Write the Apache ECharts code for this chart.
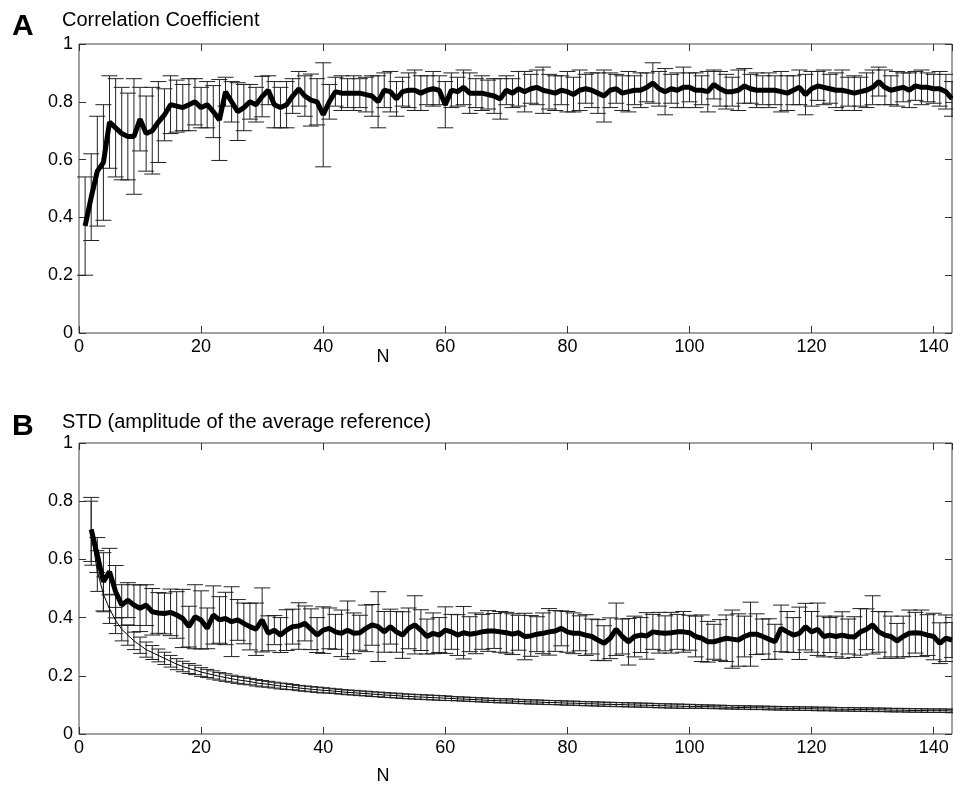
<!DOCTYPE html>
<html>
<head>
<meta charset="utf-8">
<script src="https://cdn.jsdelivr.net/npm/echarts@6/dist/echarts.min.js"></script>
<style>
  html, body { margin: 0; padding: 0; background: #fff; }
  #echarts { width: 953px; height: 787px; }
</style>
</head>
<body>
<div id="echarts"></div>
<script>
// x ticks / y ticks
var xTicks = [0, 20, 40, 60, 80, 100, 120, 140];
var yTicks = [0, 0.2, 0.4, 0.6, 0.8, 1];

// panel A: correlation coefficient, N = 1..143
var corrMean = [
  0.37,0.47,0.56,0.59,0.73,0.71,0.69,0.68,0.68,0.74,
  0.69,0.70,0.73,0.755,0.79,0.785,0.78,0.79,0.80,0.78,
  0.79,0.766,0.737,0.835,0.80,0.766,0.78,0.80,0.79,0.818,
  0.84,0.79,0.78,0.79,0.82,0.845,0.82,0.806,0.80,0.755,
  0.80,0.835,0.83,0.83,0.83,0.83,0.825,0.82,0.80,0.84,
  0.835,0.81,0.835,0.84,0.84,0.83,0.84,0.845,0.84,0.79,
  0.84,0.835,0.85,0.83,0.83,0.83,0.825,0.82,0.81,0.84,
  0.83,0.845,0.835,0.845,0.85,0.84,0.835,0.83,0.84,0.835,
  0.825,0.84,0.845,0.84,0.83,0.82,0.84,0.845,0.83,0.835,
  0.84,0.84,0.85,0.865,0.845,0.835,0.845,0.84,0.85,0.85,
  0.84,0.84,0.835,0.86,0.845,0.835,0.835,0.84,0.855,0.845,
  0.84,0.84,0.84,0.84,0.835,0.83,0.84,0.85,0.825,0.845,
  0.855,0.85,0.845,0.84,0.84,0.835,0.83,0.835,0.84,0.85,
  0.87,0.85,0.84,0.845,0.85,0.84,0.855,0.85,0.85,0.845,
  0.845,0.835,0.81
];
var corrErr = [
  0.17,0.15,0.19,0.20,0.16,0.17,0.16,0.15,0.20,0.11,
  0.13,0.15,0.14,0.09,0.10,0.09,0.08,0.09,0.08,0.07,
  0.08,0.09,0.14,0.05,0.07,0.10,0.08,0.06,0.06,0.07,
  0.05,0.08,0.07,0.08,0.06,0.06,0.07,0.09,0.08,0.18,
  0.06,0.05,0.06,0.05,0.06,0.05,0.06,0.07,0.09,0.06,
  0.07,0.06,0.05,0.06,0.07,0.06,0.05,0.06,0.05,0.08,
  0.06,0.05,0.06,0.07,0.05,0.06,0.05,0.06,0.07,0.05,
  0.05,0.06,0.07,0.05,0.06,0.08,0.06,0.06,0.05,0.07,
  0.06,0.07,0.05,0.06,0.07,0.09,0.06,0.05,0.06,0.07,
  0.05,0.06,0.05,0.07,0.06,0.08,0.05,0.06,0.07,0.05,
  0.06,0.05,0.07,0.05,0.06,0.06,0.05,0.07,0.06,0.05,
  0.06,0.05,0.06,0.05,0.07,0.06,0.05,0.06,0.07,0.06,
  0.05,0.06,0.05,0.06,0.07,0.05,0.06,0.05,0.06,0.06,
  0.05,0.06,0.05,0.06,0.05,0.06,0.05,0.06,0.05,0.05,
  0.06,0.06,0.06
];

// panel B: STD, N = 2..143
var stdMean = [
  0.703,0.615,0.523,0.558,0.489,0.443,0.46,0.443,0.432,
  0.443,0.42,0.416,0.414,0.418,0.409,0.397,0.369,0.403,0.392,
  0.363,0.409,0.392,0.397,0.386,0.392,0.38,0.369,0.36,0.392,
  0.346,0.357,0.34,0.357,0.369,0.371,0.38,0.36,0.34,0.357,
  0.363,0.351,0.346,0.357,0.346,0.348,0.363,0.375,0.369,0.351,
  0.369,0.351,0.34,0.363,0.375,0.357,0.335,0.346,0.34,0.357,
  0.351,0.34,0.348,0.343,0.346,0.351,0.354,0.354,0.351,0.348,
  0.343,0.348,0.335,0.337,0.343,0.346,0.351,0.354,0.363,0.351,
  0.346,0.346,0.34,0.335,0.323,0.312,0.329,0.36,0.335,0.317,
  0.335,0.34,0.337,0.351,0.348,0.346,0.348,0.351,0.351,0.348,
  0.335,0.329,0.317,0.317,0.323,0.329,0.326,0.323,0.335,0.343,
  0.343,0.335,0.326,0.317,0.363,0.351,0.34,0.346,0.369,0.351,
  0.36,0.335,0.34,0.335,0.34,0.335,0.333,0.351,0.36,0.375,
  0.351,0.34,0.335,0.32,0.335,0.346,0.348,0.346,0.34,0.335,
  0.312,0.329,0.323
];
var stdErr = [
  0.11,0.06,0.10,0.08,0.09,0.07,0.06,0.07,0.08,
  0.07,0.08,0.07,0.07,0.08,0.08,0.10,0.07,0.11,0.10,
  0.07,0.10,0.08,0.09,0.12,0.07,0.07,0.08,0.09,0.11,
  0.06,0.05,0.06,0.07,0.06,0.08,0.06,0.07,0.06,0.08,
  0.07,0.06,0.08,0.10,0.07,0.06,0.08,0.07,0.12,0.07,
  0.06,0.07,0.08,0.07,0.10,0.07,0.06,0.07,0.06,0.08,
  0.06,0.07,0.09,0.06,0.07,0.06,0.07,0.06,0.07,0.07,
  0.07,0.06,0.08,0.07,0.06,0.07,0.08,0.07,0.06,0.07,
  0.07,0.06,0.07,0.06,0.07,0.06,0.07,0.09,0.06,0.08,
  0.07,0.06,0.08,0.06,0.07,0.06,0.07,0.06,0.07,0.06,
  0.07,0.08,0.07,0.06,0.07,0.08,0.10,0.09,0.07,0.11,
  0.07,0.06,0.07,0.06,0.08,0.07,0.06,0.09,0.08,0.07,
  0.09,0.07,0.06,0.07,0.08,0.06,0.07,0.08,0.07,0.10,
  0.07,0.08,0.07,0.06,0.07,0.08,0.07,0.08,0.07,0.08,
  0.07,0.08,0.06
];
var refMean = [
  0.69,0.56,0.48,0.43,0.39,0.36,0.34,0.32,0.305,
  0.29,0.28,0.27,0.26,0.25,0.24,0.232,0.225,0.22,0.213,
  0.208,0.203,0.198,0.194,0.19,0.186,0.183,0.18,0.176,0.173,
  0.171,0.168,0.165,0.163,0.161,0.158,0.156,0.154,0.152,0.15,
  0.149,0.147,0.145,0.143,0.142,0.14,0.139,0.137,0.136,0.134,
  0.133,0.132,0.13,0.129,0.128,0.127,0.126,0.125,0.124,0.123,
  0.122,0.121,0.12,0.119,0.118,0.117,0.116,0.115,0.114,0.114,
  0.113,0.112,0.111,0.11,0.11,0.109,0.108,0.108,0.107,0.106,
  0.106,0.105,0.104,0.104,0.103,0.102,0.102,0.101,0.101,0.1,
  0.1,0.099,0.099,0.098,0.097,0.097,0.096,0.096,0.095,0.095,
  0.095,0.094,0.094,0.093,0.093,0.092,0.092,0.091,0.091,0.09,
  0.09,0.09,0.089,0.089,0.088,0.088,0.088,0.087,0.087,0.087,
  0.086,0.086,0.086,0.085,0.085,0.085,0.084,0.084,0.084,0.083,
  0.083,0.083,0.082,0.082,0.082,0.081,0.081,0.081,0.08,0.08,
  0.08,0.08,0.079
];
var refErr = [
  0.11,0.07,0.06,0.05,0.045,0.04,0.035,0.03,0.028,
  0.026,0.024,0.022,0.021,0.02,0.019,0.018,0.017,0.016,0.015,
  0.014,0.014,0.013,0.013,0.012,0.012,0.012,0.011,0.011,0.011,
  0.010,0.010,0.010,0.010,0.009,0.009,0.009,0.009,0.009,0.009,
  0.008,0.008,0.008,0.008,0.008,0.008,0.008,0.008,0.008,0.008,
  0.008,0.008,0.008,0.008,0.008,0.008,0.008,0.008,0.008,0.008,
  0.007,0.007,0.007,0.007,0.007,0.007,0.007,0.007,0.007,0.007,
  0.007,0.007,0.007,0.007,0.007,0.007,0.007,0.007,0.007,0.007,
  0.007,0.007,0.007,0.007,0.007,0.007,0.007,0.007,0.007,0.007,
  0.007,0.007,0.007,0.007,0.007,0.007,0.007,0.007,0.007,0.007,
  0.006,0.006,0.006,0.006,0.006,0.006,0.006,0.006,0.006,0.006,
  0.006,0.006,0.006,0.006,0.006,0.006,0.006,0.006,0.006,0.006,
  0.006,0.006,0.006,0.006,0.006,0.006,0.006,0.006,0.006,0.006,
  0.006,0.006,0.006,0.006,0.006,0.006,0.006,0.006,0.006,0.006,
  0.006,0.006,0.006
];

var FONT = 'Liberation Sans, Arial, Helvetica, sans-serif';

function toLine(mean, n0) {
    var out = [];
    mean.forEach(function (v, i) { out.push([n0 + i, v]); });
    return out;
}
function toBars(mean, err, n0) {
    var out = [];
    mean.forEach(function (v, i) { out.push([n0 + i, v - err[i], v + err[i]]); });
    return out;
}

function makeErrRender(capHalf, color) {
    return function (params, api) {
        var x = api.value(0);
        var lo = api.coord([x, api.value(1)]);
        var hi = api.coord([x, api.value(2)]);
        var st = { stroke: color, lineWidth: 1 };
        return {
            type: 'group',
            children: [
                { type: 'line', shape: { x1: lo[0], y1: lo[1], x2: hi[0], y2: hi[1] }, style: st },
                { type: 'line', shape: { x1: lo[0] - capHalf, y1: lo[1], x2: lo[0] + capHalf, y2: lo[1] }, style: st },
                { type: 'line', shape: { x1: hi[0] - capHalf, y1: hi[1], x2: hi[0] + capHalf, y2: hi[1] }, style: st }
            ]
        };
    };
}

function xAx(grid, pos) {
    return {
        type: 'value', gridIndex: grid, position: pos, min: 0, max: 143, interval: 20,
        axisLine: { show: false, onZero: false },
        axisTick: { show: true, inside: true, length: 7, lineStyle: { color: '#333' } },
        axisLabel: {
            show: pos === 'bottom', color: '#000', fontSize: 18, fontFamily: FONT, margin: 5,
            showMaxLabel: false,
            formatter: function (v) { return xTicks.indexOf(v) >= 0 ? String(v) : ''; }
        },
        splitLine: { show: false }
    };
}
function yAx(grid, pos) {
    return {
        type: 'value', gridIndex: grid, position: pos, min: 0, max: 1, interval: 0.2,
        axisLine: { show: false, onZero: false },
        axisTick: { show: true, inside: true, length: 7, lineStyle: { color: '#333' } },
        axisLabel: {
            show: pos === 'left', color: '#000', fontSize: 18, fontFamily: FONT, margin: 6,
            formatter: function (v) {
                for (var i = 0; i < yTicks.length; i++) {
                    if (Math.abs(yTicks[i] - v) < 1e-6) return String(yTicks[i]);
                }
                return '';
            }
        },
        splitLine: { show: false }
    };
}

var myChart = echarts.init(document.getElementById('echarts'));

var option = {
    backgroundColor: '#fff',
    animation: false,
    grid: [
        { left: 79, top: 44, width: 873, height: 289, show: true, borderColor: '#444', borderWidth: 1,
          backgroundColor: 'transparent', outerBoundsMode: 'none' },
        { left: 79, top: 443, width: 873, height: 291, show: true, borderColor: '#444', borderWidth: 1,
          backgroundColor: 'transparent', outerBoundsMode: 'none' }
    ],
    xAxis: [xAx(0, 'bottom'), xAx(0, 'top'), xAx(1, 'bottom'), xAx(1, 'top')],
    yAxis: [yAx(0, 'left'), yAx(0, 'right'), yAx(1, 'left'), yAx(1, 'right')],
    graphic: [
        { type: 'text', x: 12, y: 27, style: { text: 'A', font: 'bold 30px ' + FONT, fill: '#000', textVerticalAlign: 'middle' } },
        { type: 'text', x: 62, y: 20, style: { text: 'Correlation Coefficient', font: '20px ' + FONT, fill: '#000', textVerticalAlign: 'middle' } },
        { type: 'text', x: 383, y: 357, style: { text: 'N', font: '18px ' + FONT, fill: '#000', textAlign: 'center', textVerticalAlign: 'middle' } },
        { type: 'text', x: 12, y: 427, style: { text: 'B', font: 'bold 30px ' + FONT, fill: '#000', textVerticalAlign: 'middle' } },
        { type: 'text', x: 62, y: 422, style: { text: 'STD (amplitude of the average reference)', font: '20px ' + FONT, fill: '#000', textVerticalAlign: 'middle' } },
        { type: 'text', x: 383, y: 776, style: { text: 'N', font: '18px ' + FONT, fill: '#000', textAlign: 'center', textVerticalAlign: 'middle' } }
    ],
    series: [
        {
            name: 'corrErr', type: 'custom', xAxisIndex: 0, yAxisIndex: 0,
            renderItem: makeErrRender(8, '#222'),
            encode: { x: 0, y: [1, 2] },
            data: toBars(corrMean, corrErr, 1), z: 2
        },
        {
            name: 'Correlation Coefficient', type: 'line', xAxisIndex: 0, yAxisIndex: 0,
            showSymbol: false, smooth: false,
            lineStyle: { color: '#000', width: 5 },
            data: toLine(corrMean, 1), z: 3
        },
        {
            name: 'refErr', type: 'custom', xAxisIndex: 2, yAxisIndex: 2,
            renderItem: makeErrRender(7, '#222'),
            encode: { x: 0, y: [1, 2] },
            data: toBars(refMean, refErr, 2), z: 2
        },
        {
            name: 'ref', type: 'line', xAxisIndex: 2, yAxisIndex: 2,
            showSymbol: false,
            lineStyle: { color: '#000', width: 1 },
            data: toLine(refMean, 2), z: 3
        },
        {
            name: 'stdErr', type: 'custom', xAxisIndex: 2, yAxisIndex: 2,
            renderItem: makeErrRender(8, '#222'),
            encode: { x: 0, y: [1, 2] },
            data: toBars(stdMean, stdErr, 2), z: 2
        },
        {
            name: 'STD', type: 'line', xAxisIndex: 2, yAxisIndex: 2,
            showSymbol: false,
            lineStyle: { color: '#000', width: 5 },
            data: toLine(stdMean, 2), z: 3
        }
    ]
};
myChart.setOption(option);
</script>
</body>
</html>
